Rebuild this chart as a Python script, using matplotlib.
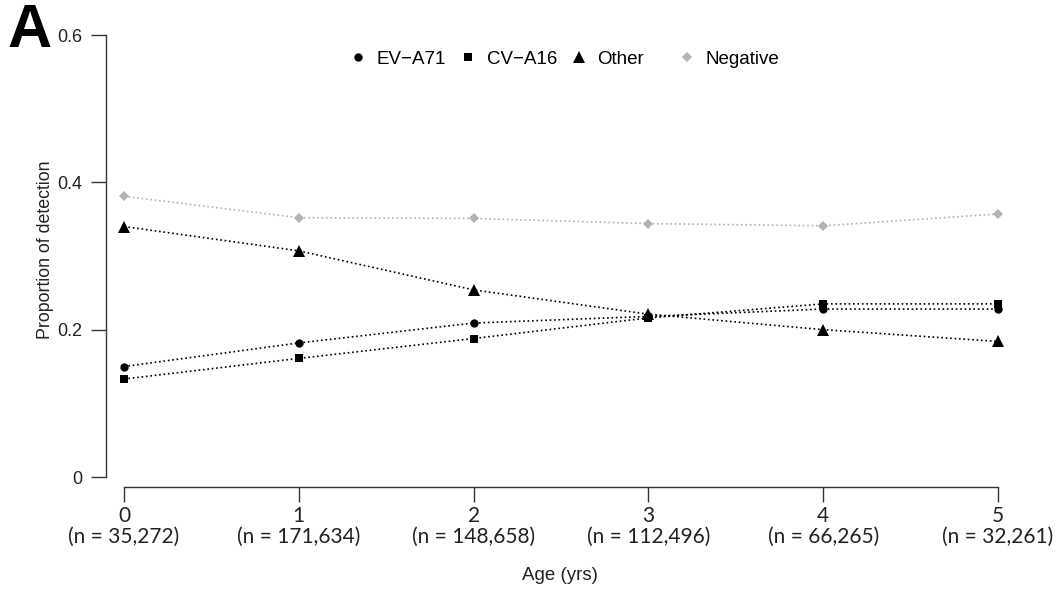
import matplotlib
matplotlib.use('Agg')
import matplotlib.pyplot as plt
from matplotlib.lines import Line2D

ages = [0, 1, 2, 3, 4, 5]
n_labels = ['35,272', '171,634', '148,658', '112,496', '66,265', '32,261']
ev_a71 = [0.150, 0.182, 0.209, 0.218, 0.228, 0.228]
cv_a16 = [0.133, 0.161, 0.188, 0.216, 0.235, 0.235]
other = [0.340, 0.307, 0.254, 0.221, 0.200, 0.184]
negative = [0.381, 0.352, 0.351, 0.344, 0.341, 0.357]

plt.rcParams['font.family'] = ['Liberation Sans', 'DejaVu Sans']

fig = plt.figure(figsize=(10.58, 5.96), dpi=100)
# px -> axes: x=0 at 124, 5 at 998; y=0 at 477, 0.6 at 35
ax = fig.add_axes([106/1058, 109/596, 934/1058, 452/596])

series = [
    ('EV\u2212A71', ev_a71, 'o', 'black', 6.0),
    ('CV\u2212A16', cv_a16, 's', 'black', 6.0),
    ('Other', other, '^', 'black', 8.0),
    ('Negative', negative, 'D', '#b3b3b3', 5.0),
]
handles = []
for name, vals, mk, col, ms in series:
    ax.plot(ages, vals, linestyle=':', color=col, lw=1.2, marker=mk,
            markersize=ms, markeredgewidth=0)
    handles.append(Line2D([], [], linestyle='none', marker=mk, color=col,
                          markersize=ms, markeredgewidth=0, label=name))

ax.set_xlim(-18/174.8, 5 + 42/174.8)
ax.set_ylim(-10/736.7, 0.6)
ax.spines['top'].set_visible(False)
ax.spines['right'].set_visible(False)
ax.spines['left'].set_bounds(0, 0.6)
ax.spines['bottom'].set_bounds(0, 5)
for s in ['left', 'bottom']:
    ax.spines[s].set_linewidth(1.0)
    ax.spines[s].set_color('#333333')

ax.set_yticks([0, 0.2, 0.4, 0.6])
ax.set_yticklabels(['0', '0.2', '0.4', '0.6'])
ax.set_xticks(ages)
ax.set_xticklabels(['%d\n(n = %s)' % (a, n) for a, n in zip(ages, n_labels)],
                   family=['Lato', 'DejaVu Sans'], fontsize=15, linespacing=1.0)
ax.tick_params(axis='both', length=11, width=1.0, color='#333333',
               labelcolor='#222222')
ax.tick_params(axis='y', labelsize=13, pad=6)
ax.tick_params(axis='x', pad=3)

ax.set_ylabel('Proportion of detection', fontsize=12.8, color='#222222', va='center')
ax.yaxis.set_label_coords(-61/934, (487-250)/452)
ax.set_xlabel('Age (yrs)', fontsize=13.5, color='#222222', va='center')
ax.xaxis.set_label_coords((560-106)/934, -(575-487)/452)

leg1 = ax.legend(handles=handles[:3], loc='center left', bbox_to_anchor=(0.262, 0.947),
                 ncol=3, frameon=False, fontsize=13.5, handlelength=0.8,
                 handletextpad=0.6, columnspacing=0.75, borderaxespad=0, borderpad=0)
ax.add_artist(leg1)
ax.legend(handles=handles[3:], loc='center left', bbox_to_anchor=(0.614, 0.947),
          frameon=False, fontsize=13.5, handlelength=0.8, handletextpad=0.6,
          borderaxespad=0, borderpad=0)

fig.text(7/1058, 1 - 47/596, 'A', fontsize=44, fontweight='bold')

fig.savefig('out.png', dpi=100)
